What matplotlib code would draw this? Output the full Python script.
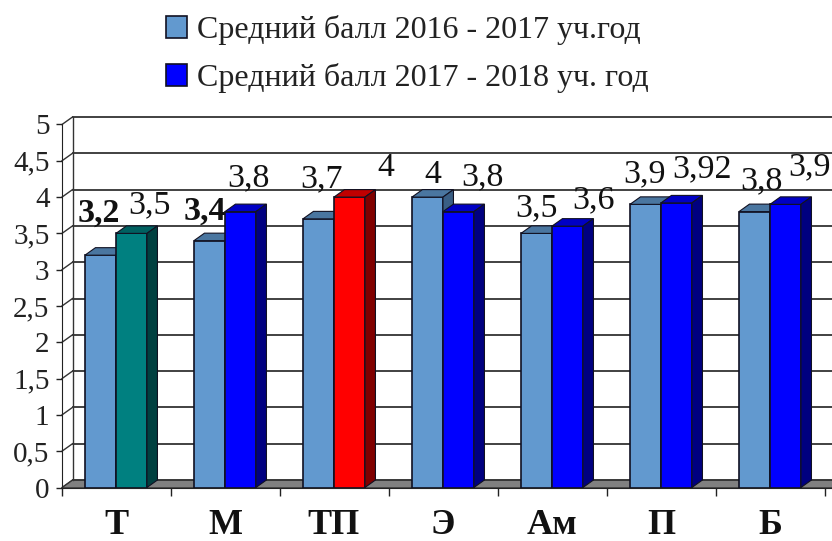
import matplotlib
matplotlib.use("Agg")
import matplotlib.pyplot as plt
from matplotlib.patches import Polygon, Patch

categories = ["Т", "М", "ТП", "Э", "Ам", "П", "Б"]
series_2016 = [3.2, 3.4, 3.7, 4.0, 3.5, 3.9, 3.8]
series_2017 = [3.5, 3.8, 4.0, 3.8, 3.6, 3.92, 3.9]
labels_2016 = ["3,2", "3,4", "3,7", "4", "3,5", "3,9", "3,8"]
labels_2017 = ["3,5", "3,8", "4", "3,8", "3,6", "3,92", "3,9"]
y_ticks = [0, 0.5, 1, 1.5, 2, 2.5, 3, 3.5, 4, 4.5, 5]
y_tick_labels = ["0", "0,5", "1", "1,5", "2", "2,5", "3", "3,5", "4", "4,5", "5"]
legend_names = ["Средний балл 2016 - 2017 уч.год", "Средний балл 2017 - 2018 уч. год"]

# (front, top, side) colours
LIGHT = ("#6299cf", "#4a76a0", "#3a5f85")
BLUE = ("#0000ff", "#0000c4", "#000080")
TEAL = ("#008080", "#006060", "#004040")
RED = ("#ff0000", "#c00000", "#800000")
styles_2017 = [TEAL, BLUE, RED, BLUE, BLUE, BLUE, BLUE]

# label offsets in px from the bar's top-centre
off_2016 = [(-2, 26), (-5, 14), (3, 25), (5, 7), (0, 10), (-1, 15), (7, 15)]
off_2017 = [(18, 13), (8, 18), (36, 14), (24, 19), (26, 11), (26, 19), (24, 22)]
bold_2016 = [True, True, False, False, False, False, False]

W, H = 832, 541
plt.rcParams["font.family"] = ["Liberation Serif", "DejaVu Serif"]
fig = plt.figure(figsize=(W / 100, H / 100), dpi=100)
L, R, Y0, Y5 = 62.0, 825.0, 487.5, 124.5
ax = fig.add_axes([L / W, 1 - Y0 / H, (R - L) / W, (Y0 - Y5) / H])
ax.set_xlim(0, 7)
ax.set_ylim(0, 5)
ax.patch.set_visible(False)
for s in ("top", "right"):
    ax.spines[s].set_visible(False)
ax.spines["left"].set_color("#222222")
ax.spines["bottom"].set_color("#222222")
ax.spines["bottom"].set_bounds(0, 7.2)

ux = (R - L) / 7
uy = (Y0 - Y5) / 5
dx, dy = 10.5 / ux, 7.5 / uy
lw = 1.2
edge = "#111122"

# floor
ax.add_patch(Polygon([(0, 0), (dx, dy), (7.3, dy), (7.3 - dx, 0)], facecolor="#808080",
                     edgecolor="#333333", lw=0.6, zorder=1, clip_on=False))
# back wall grid and left wall ties
for t in y_ticks:
    ax.plot([dx, 7.3], [t + dy, t + dy], color="#333333", lw=1.3, zorder=1.5, clip_on=False)
    ax.plot([0, dx], [t, t + dy], color="#333333", lw=1.0, zorder=1.5, clip_on=False)
ax.plot([dx, dx], [dy, 5 + dy], color="#333333", lw=1.0, zorder=1.5, clip_on=False)

width = 31.0 / ux
x = [i + 0.495 for i in range(len(categories))]


def draw_bar(xc, v, cols, z):
    x0, x1 = xc - width / 2, xc + width / 2
    ax.bar(xc, v, width=width, color=cols[0], edgecolor=edge, lw=lw, zorder=z)
    ax.add_patch(Polygon([(x0, v), (x0 + dx, v + dy), (x1 + dx, v + dy), (x1, v)],
                         facecolor=cols[1], edgecolor=edge, lw=0.8, zorder=z, clip_on=False))
    ax.add_patch(Polygon([(x1, 0), (x1 + dx, dy), (x1 + dx, v + dy), (x1, v)],
                         facecolor=cols[2], edgecolor=edge, lw=0.8, zorder=z, clip_on=False))


for i, xc in enumerate(x):
    draw_bar(xc - width / 2, series_2016[i], LIGHT, 3 + i * 0.01)
    draw_bar(xc + width / 2, series_2017[i], styles_2017[i], 3.005 + i * 0.01)
    ax.annotate(labels_2016[i], (xc - width / 2, series_2016[i]),
                xytext=(off_2016[i][0] * 0.72, off_2016[i][1] * 0.72), textcoords="offset points",
                ha="center", va="bottom", fontsize=24.5,
                fontweight="bold" if bold_2016[i] else "normal", color="#111111", zorder=6)
    ax.annotate(labels_2017[i], (xc + width / 2, series_2017[i]),
                xytext=(off_2017[i][0] * 0.72, off_2017[i][1] * 0.72), textcoords="offset points",
                ha="center", va="bottom", fontsize=24.5, color="#111111", zorder=6)

ax.set_xticks(range(len(categories) + 1))
ax.set_xticklabels([""] * (len(categories) + 1))
ax.tick_params(axis="x", length=5.5, width=1, color="#222222")
ax.set_yticks(y_ticks)
ax.set_yticklabels(y_tick_labels, fontsize=21, color="#222222")
ax.tick_params(axis="y", length=4, width=1, pad=5, color="#222222")
for xc, c in zip(x, categories):
    ax.annotate(c, (xc, 0), xytext=(0, -27.5), textcoords="offset points", ha="center", va="center",
                fontsize=26, fontweight="bold", color="#111111")

handles = [Patch(facecolor=LIGHT[0], edgecolor=edge, lw=1.2), Patch(facecolor=BLUE[0], edgecolor=edge, lw=1.2)]
fig.legend(handles, legend_names, loc="upper left", bbox_to_anchor=(166 / W, 1 - 15 / H),
           bbox_transform=fig.transFigure, frameon=False, fontsize=23,
           handlelength=0.66, handleheight=0.66, handletextpad=0.31, labelspacing=0.565,
           borderpad=0, borderaxespad=0, labelcolor="#222222")
fig.savefig("out.png", dpi=100)
